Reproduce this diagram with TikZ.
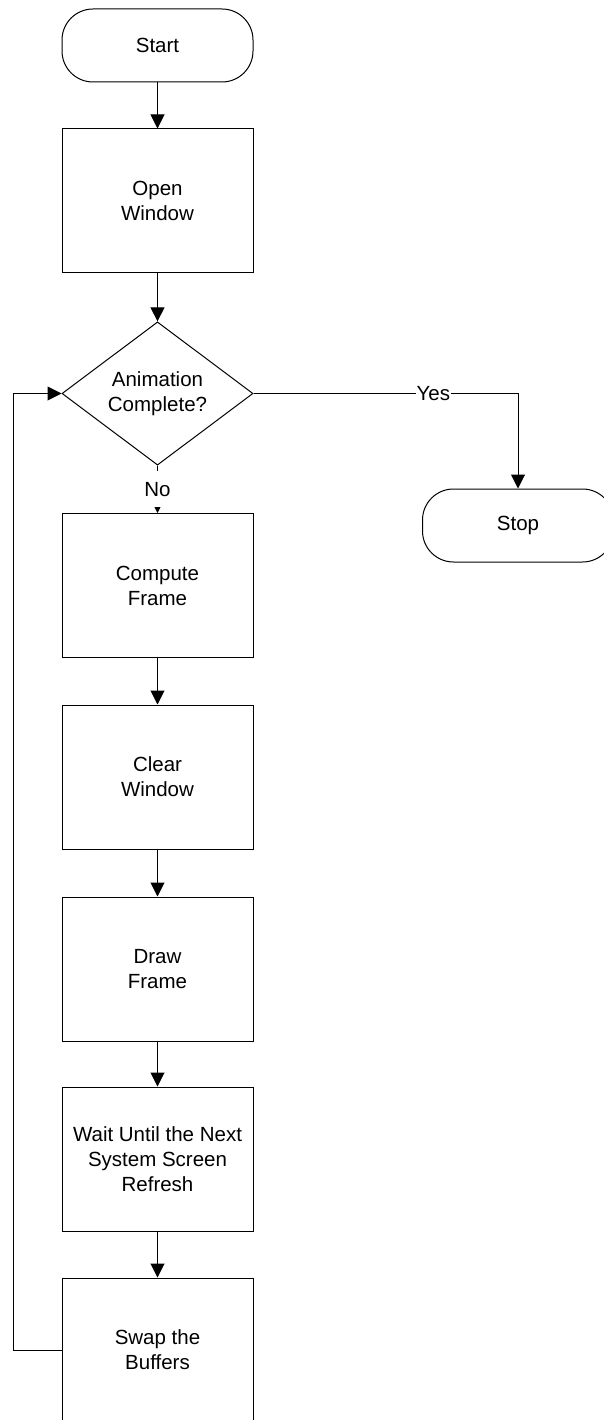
\documentclass[tikz,border=0pt]{standalone}
\usepackage{fontspec}
\setmainfont{Liberation Sans}
\usetikzlibrary{shapes.geometric, arrows.meta}

\tikzset{
    flowbox/.style={draw, rectangle, minimum width=191pt, minimum height=144pt, inner sep=0pt, align=center},
    terminal/.style={draw, rectangle, rounded corners=31pt, minimum width=191pt, minimum height=73pt, inner sep=0pt},
    decision/.style={draw, diamond, minimum width=191pt, minimum height=143pt, inner sep=0pt, align=center},
    flow/.style={-{Triangle[length=14pt, width=14pt]}},
    answer/.style={fill=white, inner sep=1pt},
}

\begin{document}
\begin{tikzpicture}[x=1pt, y=-1pt, line width=1pt, font=\fontsize{20.5}{25}\selectfont]
    \useasboundingbox (0,0) rectangle (604,1420);
    \node[terminal] (start) at (157.5,45.5) {Start};
    \node[flowbox] (open) at (157.5,201) {Open\\Window};
    \node[decision] (check) at (157.5,393.5) {Animation\\Complete?};
    \node[terminal] (stop) at (518,525.5) {Stop};
    \node[flowbox] (compute) at (157.5,585.5) {Compute\\Frame};
    \node[flowbox] (clear) at (157.5,777) {Clear\\Window};
    \node[flowbox] (drawf) at (157.5,969) {Draw\\Frame};
    \node[flowbox] (wait) at (157.5,1159) {Wait Until the Next\\System Screen\\Refresh};
    \node[flowbox] (swap) at (157.5,1350) {Swap the\\Buffers};
    \coordinate (back) at (13,1350);
    \foreach \a/\b in {start/open, open/check, compute/clear, clear/drawf, drawf/wait, wait/swap}
        \draw[flow] (\a) -- (\b);
    \draw[flow] (check.south) -- node[answer, inner sep=0pt, minimum height=36pt] {No} (compute.north);
    \draw[flow] (check.east) -| node[answer, pos=0.34] {Yes} (stop.north);
    \draw[flow] (swap.west) -- (back) |- (check.west);
\end{tikzpicture}
\end{document}
